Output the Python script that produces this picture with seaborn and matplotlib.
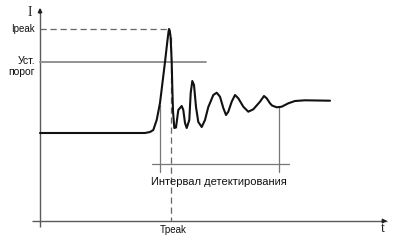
import matplotlib
matplotlib.use("Agg")
import matplotlib.pyplot as plt
import seaborn as sns
import pandas as pd

sns.set_theme(style="white")
plt.rcParams['font.family'] = ['Liberation Sans', 'DejaVu Sans']

# Signal (time t, intensity I)
sig_t = [0, 105, 110, 113.3, 116.7, 120, 125, 127.5, 128.5, 129, 129.7, 130.5, 131, 131.7, 132.3,
         133, 134.3, 136, 138.3, 141.7, 143.3, 145, 146.7, 149.3, 150.7, 152.3, 154,
         156, 158.3, 161.7, 165, 168.3, 170, 173.3, 176.7, 180, 183.3, 186, 188.3, 191.7, 195,
         198.3, 203.3, 208.3, 213.3, 220, 224, 226.7, 230, 232, 236.7, 241.7, 248.3, 255, 265, 290]
sig_I = [88, 88, 89, 91, 101, 118, 159, 181, 189, 192, 190.5, 185, 175, 159, 134,
         110, 93, 93.5, 111, 115, 111, 98, 93, 101, 128, 140, 136,
         114, 99, 94, 101, 114, 118, 126, 128.3, 124.3, 113, 106, 109.3, 119.3, 126,
         122.7, 114.3, 109.3, 111.7, 119.3, 125, 122.7, 117.7, 115.5, 113.7, 114.3, 117.7, 120, 120.7, 120.3]

I_peak = 192
T_peak = 131
threshold = 159
interval_start = 120
interval_end = 239

fig = plt.figure(figsize=(4, 2.44), dpi=100)
ax = fig.add_axes([0, 0, 1, 1])

axis_c = '#5a5a5a'
# axes with arrows
ax.plot([-8, 347], [0, 0], color=axis_c, lw=1.0, solid_capstyle='butt')
ax.annotate('', xy=(350, 0), xytext=(340, 0),
            arrowprops=dict(arrowstyle='-|>', color='#222', lw=1.0, mutation_scale=6))
ax.plot([0, 0], [-6, 212], color=axis_c, lw=1.0, solid_capstyle='butt')
ax.annotate('', xy=(0, 216), xytext=(0, 205),
            arrowprops=dict(arrowstyle='-|>', color='#222', lw=1.0, mutation_scale=6))

# threshold
ax.plot([0, 166], [threshold, threshold], color='#8a8a8a', lw=1.3)
# peak dashed lines
ax.plot([0, T_peak - 2], [I_peak, I_peak], color='#666', lw=0.9, ls=(0, (5, 3)))
ax.plot([T_peak, T_peak], [I_peak - 8, 0], color='#666', lw=0.9, ls=(0, (5, 3)))

# detection interval
ax.plot([interval_start, interval_start], [116, 49], color='#777', lw=0.9)
ax.plot([interval_end, interval_end], [114, 49], color='#777', lw=0.9)
ax.plot([112, 249], [57, 57], color='#777', lw=0.9)

# signal
df = pd.DataFrame({'t': sig_t, 'I': sig_I})
sns.lineplot(data=df, x='t', y='I', sort=False, ax=ax, color='#111111', lw=1.5,
             solid_joinstyle='round', solid_capstyle='round')
ax.set_xlim(-40, 360)
ax.set_ylim(-23, 221)
ax.axis('off')

# labels
ax.text(-5, I_peak, 'Ipeak', ha='right', va='center', fontsize=7, color='#111')
ax.text(-5, threshold + 1, 'Уст.', ha='right', va='center', fontsize=7.5, color='#111')
ax.text(-5, threshold - 10, 'порог', ha='right', va='center', fontsize=7.5, color='#111')
ax.text(T_peak + 2, -9, 'Tpeak', ha='center', va='center', fontsize=7, color='#111')
ax.text(179, 39, 'Интервал детектирования', ha='center', va='center', fontsize=8, color='#111')
ax.text(-10, 209, 'I', ha='center', va='center', fontsize=10, color='#222',
        family=['Liberation Serif', 'DejaVu Serif'])
ax.text(342.5, -8, 't', ha='center', va='center', fontsize=10, color='#222',
        family=['Liberation Serif', 'DejaVu Serif'])

fig.savefig('out.png', dpi=100, facecolor='white')
